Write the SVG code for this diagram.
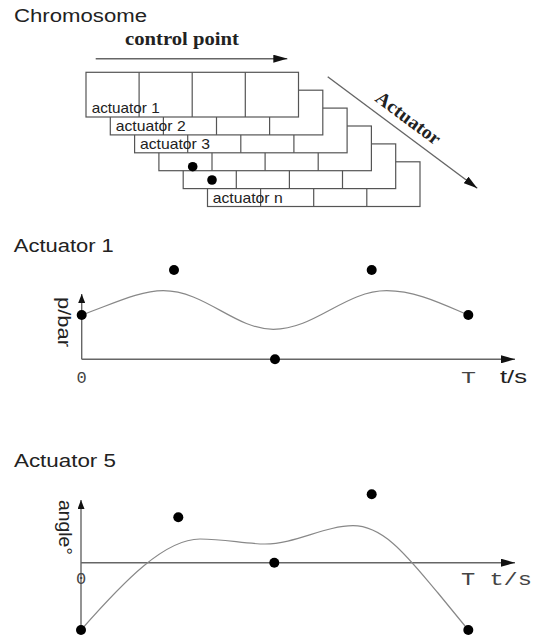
<svg xmlns="http://www.w3.org/2000/svg" width="537" height="639" viewBox="0 0 537 639">
<style>
.sans{font-family:"Liberation Sans",Arial,sans-serif;fill:#222}
.serifb{font-family:"Liberation Serif","Times New Roman",serif;font-weight:bold;fill:#222}
.mono{font-family:"Liberation Mono","Courier New",monospace;fill:#444}
.cell{fill:#fff;stroke:#555;stroke-width:1.2}
.col{stroke:#555;stroke-width:1.2}
.lbl{font-family:"Liberation Sans",Arial,sans-serif;font-size:14.5px;fill:#222}
.axis{stroke:#666;stroke-width:1.4;fill:none}
.curve{stroke:#888;stroke-width:1.2;fill:none}
.dot{fill:#000}
</style>
<defs>
<marker id="arr" markerUnits="userSpaceOnUse" viewBox="0 0 14 8" refX="14" refY="4" markerWidth="14" markerHeight="8" orient="auto"><path d="M0,0 L14,4 L0,8 z" fill="#111"/></marker>
<marker id="arrS" markerUnits="userSpaceOnUse" viewBox="0 0 9 7" refX="9" refY="3.5" markerWidth="9" markerHeight="7" orient="auto"><path d="M0,0 L9,3.5 L0,7 z" fill="#111"/></marker>
</defs>

<text class="sans" x="14" y="22.3" font-size="18" textLength="133" lengthAdjust="spacingAndGlyphs">Chromosome</text>
<text class="serifb" x="125" y="45" font-size="19.5" textLength="114" lengthAdjust="spacingAndGlyphs">control point</text>
<text class="serifb" font-size="19" text-anchor="middle" transform="translate(404.5,123) rotate(36.7)" textLength="76" lengthAdjust="spacingAndGlyphs">Actuator</text>

<g id="connectors">
<line class="axis" x1="95.7" y1="58.7" x2="287.3" y2="58.7" stroke="#555" marker-end="url(#arr)"/>
<line class="axis" x1="327.7" y1="76.7" x2="477.3" y2="188.3" stroke="#777" marker-end="url(#arr)"/>
</g>

<g id="actuator-n">
<rect class="cell" x="207.5" y="161.8" width="212.5" height="44.7"/>
<line class="col" x1="260.6" y1="161.8" x2="260.6" y2="206.5"/>
<line class="col" x1="313.7" y1="161.8" x2="313.7" y2="206.5"/>
<line class="col" x1="366.8" y1="161.8" x2="366.8" y2="206.5"/>
<text class="lbl" x="212.7" y="202.7" textLength="70" lengthAdjust="spacingAndGlyphs">actuator n</text>
</g>
<g id="actuator-5-row">
<rect class="cell" x="183.2" y="143.9" width="212.5" height="44.7"/>
<line class="col" x1="236.3" y1="143.9" x2="236.3" y2="188.6"/>
<line class="col" x1="289.4" y1="143.9" x2="289.4" y2="188.6"/>
<line class="col" x1="342.5" y1="143.9" x2="342.5" y2="188.6"/>
</g>
<g id="actuator-4-row">
<rect class="cell" x="158.9" y="126" width="212.5" height="44.7"/>
<line class="col" x1="212" y1="126" x2="212" y2="170.7"/>
<line class="col" x1="265.1" y1="126" x2="265.1" y2="170.7"/>
<line class="col" x1="318.2" y1="126" x2="318.2" y2="170.7"/>
</g>
<g id="actuator-3">
<rect class="cell" x="134.6" y="108.1" width="212.5" height="44.7"/>
<line class="col" x1="187.7" y1="108.1" x2="187.7" y2="152.8"/>
<line class="col" x1="240.8" y1="108.1" x2="240.8" y2="152.8"/>
<line class="col" x1="293.9" y1="108.1" x2="293.9" y2="152.8"/>
<text class="lbl" x="140" y="148.7" textLength="70" lengthAdjust="spacingAndGlyphs">actuator 3</text>
</g>
<g id="actuator-2">
<rect class="cell" x="110.3" y="90.2" width="212.5" height="44.7"/>
<line class="col" x1="163.4" y1="90.2" x2="163.4" y2="134.9"/>
<line class="col" x1="216.5" y1="90.2" x2="216.5" y2="134.9"/>
<line class="col" x1="269.6" y1="90.2" x2="269.6" y2="134.9"/>
<text class="lbl" x="115.7" y="130.7" textLength="70" lengthAdjust="spacingAndGlyphs">actuator 2</text>
</g>
<g id="actuator-1">
<rect class="cell" x="86" y="72.3" width="212.5" height="44.7"/>
<line class="col" x1="139.1" y1="72.3" x2="139.1" y2="117"/>
<line class="col" x1="192.2" y1="72.3" x2="192.2" y2="117"/>
<line class="col" x1="245.3" y1="72.3" x2="245.3" y2="117"/>
<text class="lbl" x="91.7" y="112.7" textLength="68" lengthAdjust="spacingAndGlyphs">actuator 1</text>
</g>
<g id="chromosome-dots">
<circle class="dot" cx="192.7" cy="166.7" r="4.8"/>
<circle class="dot" cx="212" cy="180" r="4.8"/>
</g>

<g id="plot-actuator-1">
<text class="sans" x="13.8" y="251.7" font-size="17.5" textLength="100" lengthAdjust="spacingAndGlyphs">Actuator 1</text>
<line class="axis" x1="81.7" y1="359.3" x2="81.7" y2="294" marker-end="url(#arrS)"/>
<line class="axis" x1="81.7" y1="359.3" x2="515" y2="359.3" marker-end="url(#arr)"/>
<path class="curve" d="M81.7,315 C115,303 140,290.7 163.3,290.7 C205,290.7 235,329.3 273.3,329.3 C315,329.3 345,290.7 386.7,290.7 C415,290.7 440,303 468.3,315"/>
<circle class="dot" cx="81.7" cy="315" r="5"/>
<circle class="dot" cx="174" cy="270" r="5"/>
<circle class="dot" cx="275" cy="359.3" r="5"/>
<circle class="dot" cx="371.7" cy="270" r="5"/>
<circle class="dot" cx="468.3" cy="315" r="5"/>
<text class="sans" font-size="18" transform="translate(57.5,297) rotate(90)" textLength="50" lengthAdjust="spacingAndGlyphs">p/bar</text>
<text class="mono" x="81.5" y="382.5" font-size="17" text-anchor="middle">0</text>
<text class="mono" x="461" y="382.5" font-size="17" textLength="15" lengthAdjust="spacingAndGlyphs">T</text>
<text class="sans" x="500" y="383" font-size="18" textLength="27" lengthAdjust="spacingAndGlyphs">t/s</text>
</g>

<g id="plot-actuator-5">
<text class="sans" x="14" y="466.7" font-size="17.5" textLength="102" lengthAdjust="spacingAndGlyphs">Actuator 5</text>
<line class="axis" x1="81" y1="630" x2="81" y2="500" marker-end="url(#arrS)"/>
<line class="axis" x1="81" y1="562.7" x2="515" y2="562.7" marker-end="url(#arr)"/>
<path class="curve" d="M81,630 C125,580 165,539 200,539 C225,539 245,544 265,544 C295,544 325,525.7 353,525.7 C385,525.7 410,560 438,593 L468.3,630"/>
<circle class="dot" cx="81" cy="630" r="5"/>
<circle class="dot" cx="178.3" cy="517.3" r="5"/>
<circle class="dot" cx="274.3" cy="562.7" r="5"/>
<circle class="dot" cx="371.7" cy="494.3" r="5"/>
<circle class="dot" cx="468.3" cy="630" r="5"/>
<text class="sans" font-size="17.5" transform="translate(59,500) rotate(90)" textLength="55" lengthAdjust="spacingAndGlyphs">angle°</text>
<text class="mono" x="81" y="584" font-size="17" text-anchor="middle">0</text>
<text class="mono" x="461" y="585" font-size="18" textLength="71" lengthAdjust="spacingAndGlyphs">T t/s</text>
</g>
</svg>
